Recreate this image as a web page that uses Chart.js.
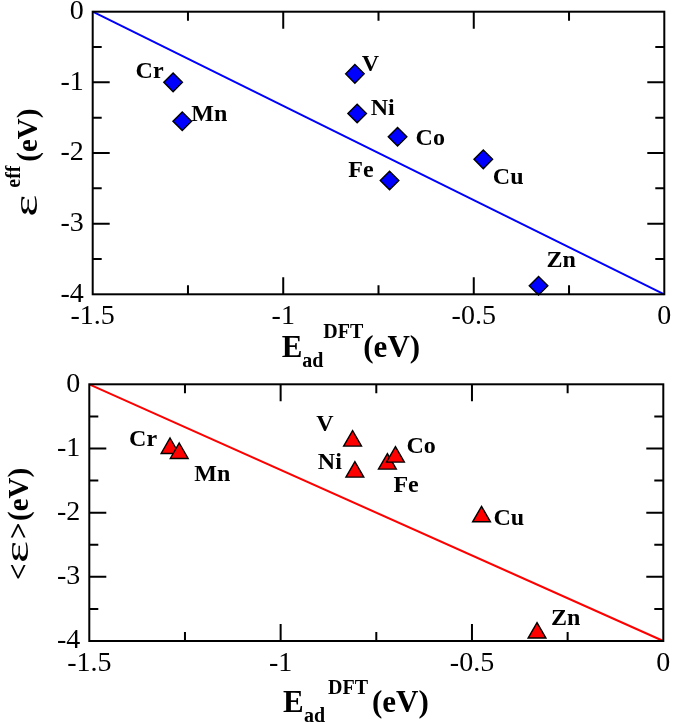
<!DOCTYPE html>
<html><head><meta charset="utf-8">
<script src="https://cdn.jsdelivr.net/npm/chart.js@4/dist/chart.umd.min.js"></script>
<style>
html,body{margin:0;padding:0;background:#fff;}
#wrap{position:relative;width:675px;height:724px;overflow:hidden;background:#fff;}
canvas{position:absolute;left:0;}
</style></head><body>
<div id="wrap">
<canvas id="c1" width="675" height="370" style="top:0px"></canvas>
<canvas id="c2" width="675" height="354" style="top:370px"></canvas>
</div>
<script>
// ---- data ----
const elements = ['V', 'Cr', 'Mn', 'Fe', 'Co', 'Ni', 'Cu', 'Zn'];
const eadDFT   = [-0.812, -1.289, -1.265, -0.721, -0.700, -0.806, -0.475, -0.330];
const epsEff   = [-0.88, -1.00, -1.55, -2.39, -1.77, -1.44, -2.09, -3.88];
const epsMean  = [-0.883, -0.997, -1.075, -1.241, -1.132, -1.366, -2.062, -3.874];
const fitX     = [-1.5, 0];
const fitTopY  = [0, -4];
const fitBotY  = [0, -4];
const xTicks = { min: -1.5, max: 0, major: 0.5, minor: 0.25 };
const yTicks = { min: -4, max: 0, major: 1, minor: 0.5 };

// ---- styles ----
const SERIF = '"Liberation Serif", Tinos, "Times New Roman", Times, serif';
const labelStyleTop = [
  {dx: 7, dy: -3, align: 'left'},     // V
  {dx: -9.5, dy: -4, align: 'right'}, // Cr
  {dx: 9, dy: 0, align: 'left'},      // Mn
  {dx: -16, dy: -4, align: 'right'},  // Fe
  {dx: 18, dy: 8, align: 'left'},     // Co
  {dx: 13.5, dy: 2, align: 'left'},   // Ni
  {dx: 9.5, dy: 25, align: 'left'},   // Cu
  {dx: 8, dy: -19, align: 'left'}     // Zn
];
const labelStyleBot = [
  {dx: -19, dy: -10, align: 'right'}, // V
  {dx: -13, dy: -2, align: 'right'},  // Cr
  {dx: 15, dy: 28, align: 'left'},    // Mn
  {dx: 6, dy: 28, align: 'left'},     // Fe
  {dx: 11, dy: -4, align: 'left'},    // Co
  {dx: -13, dy: -3, align: 'right'},  // Ni
  {dx: 12, dy: 8, align: 'left'},     // Cu
  {dx: 14, dy: -8, align: 'left'}     // Zn
];

function drawRich(ctx, x, y, parts, rotate) {
  ctx.save();
  ctx.translate(x, y);
  if (rotate) ctx.rotate(-Math.PI / 2);
  ctx.fillStyle = '#000';
  ctx.textBaseline = 'alphabetic';
  ctx.textAlign = 'left';
  for (const p of parts) {
    ctx.font = p.font;
    if (p.sx) {
      ctx.save();
      ctx.translate(p.at, p.dy || 0);
      ctx.scale(p.sx, p.sy || 1);
      ctx.fillText(p.text, 0, 0);
      ctx.restore();
    } else {
      ctx.fillText(p.text, p.at, p.dy || 0);
    }
  }
  ctx.restore();
}

function framePlugin(labelStyle, titles) {
  return {
    id: 'frame',
    afterDraw(chart) {
      const ctx = chart.ctx;
      const a = chart.chartArea;
      const xs = chart.scales.x, ys = chart.scales.y;
      ctx.save();
      ctx.strokeStyle = '#000';
      ctx.lineWidth = 2;
      ctx.strokeRect(a.left, a.top, a.right - a.left, a.bottom - a.top);
      ctx.beginPath();
      const nx = Math.round((xTicks.max - xTicks.min) / xTicks.minor);
      for (let i = 1; i < nx; i++) {
        const v = xTicks.min + i * xTicks.minor;
        const isMajor = Math.abs(v / xTicks.major - Math.round(v / xTicks.major)) < 1e-6;
        const L = isMajor ? 17 : 9;
        const px = xs.getPixelForValue(v);
        ctx.moveTo(px, a.bottom); ctx.lineTo(px, a.bottom - L);
        ctx.moveTo(px, a.top); ctx.lineTo(px, a.top + L);
      }
      const ny = Math.round((yTicks.max - yTicks.min) / yTicks.minor);
      for (let i = 1; i < ny; i++) {
        const v = yTicks.min + i * yTicks.minor;
        const isMajor = Math.abs(v / yTicks.major - Math.round(v / yTicks.major)) < 1e-6;
        const L = isMajor ? 17 : 9;
        const py = ys.getPixelForValue(v);
        ctx.moveTo(a.left, py); ctx.lineTo(a.left + L, py);
        ctx.moveTo(a.right, py); ctx.lineTo(a.right - L, py);
      }
      ctx.stroke();
      // point labels
      const meta = chart.getDatasetMeta(0);
      ctx.fillStyle = '#000';
      ctx.font = 'bold 24px ' + SERIF;
      ctx.textBaseline = 'alphabetic';
      meta.data.forEach((el, i) => {
        const s = labelStyle[i];
        ctx.textAlign = s.align;
        ctx.fillText(elements[i], el.x + s.dx, el.y + s.dy);
      });
      ctx.restore();
      titles(ctx);
    }
  };
}

const fmt = v => String(Math.round(v * 100) / 100);

function makeChart(id, yVals, fitY, color, pStyle, pRadius, geom, labelStyle, titles) {
  const pts = eadDFT.map((x, i) => ({x: x, y: yVals[i]}));
  const line = fitX.map((x, i) => ({x: x, y: fitY[i]}));
  const zeroPad = s => { s.paddingLeft = 0; s.paddingRight = 0; s.paddingTop = 0; s.paddingBottom = 0; };
  return new Chart(document.getElementById(id), {
    type: 'scatter',
    data: {
      datasets: [
        { data: pts, pointStyle: pStyle, pointRadius: pRadius, pointHoverRadius: pRadius,
          backgroundColor: color, borderColor: '#000', borderWidth: 1.4, clip: false },
        { data: line, showLine: true, borderColor: color, borderWidth: 2, pointRadius: 0,
          fill: false, clip: false }
      ]
    },
    options: {
      responsive: false,
      animation: false,
      events: [],
      layout: { padding: { left: 0, right: geom.right, top: geom.top, bottom: 0 } },
      plugins: { legend: { display: false }, tooltip: { enabled: false } },
      scales: {
        x: {
          type: 'linear', min: xTicks.min, max: xTicks.max,
          grid: { display: false, drawTicks: false },
          border: { display: false },
          ticks: { stepSize: xTicks.major, color: '#000', padding: geom.xPad, maxRotation: 0,
                   autoSkip: false, callback: fmt, font: { family: SERIF, size: 28 } },
          afterFit: s => { s.height = geom.xH; zeroPad(s); }
        },
        y: {
          type: 'linear', min: yTicks.min, max: yTicks.max,
          grid: { display: false, drawTicks: false },
          border: { display: false },
          ticks: { stepSize: yTicks.major, color: '#000', padding: 9, autoSkip: false,
                   callback: fmt, font: { family: SERIF, size: 28 } },
          afterFit: s => { s.width = geom.yW; zeroPad(s); }
        }
      }
    },
    plugins: [framePlugin(labelStyle, titles)]
  });
}

function build() {
  const B31 = 'bold 31px ' + SERIF, B20 = 'bold 20px ' + SERIF, B29 = 'bold 29px ' + SERIF;
  const EPS = '34px ' + SERIF;
  makeChart('c1', epsEff, fitTopY, '#0000ff', 'rectRot', 9.3,
    { right: 9, top: 11.7, xH: 370 - 294.3, yW: 92.7, xPad: 5.5 },
    labelStyleTop,
    ctx => {
      drawRich(ctx, 281.7, 356.5, [
        {text: 'E', font: B31, at: 0},
        {text: 'ad', font: B20, at: 20.5, dy: 10},
        {text: 'DFT', font: B20, at: 41.6, dy: -18.5},
        {text: '(eV)', font: B31, at: 81.6}
      ], false);
      drawRich(ctx, 36.5, 216.7, [
        {text: 'ε', font: EPS, at: 0, sx: 1.55},
        {text: 'eff', font: B20, at: 29, dy: -16.5},
        {text: '(eV)', font: B29, at: 55}
      ], true);
    });
  makeChart('c2', epsMean, fitBotY, '#ff0000', 'triangle', 10.3,
    { right: 8.3, top: 14.3, xH: 354 - 271, yW: 89.3, xPad: 6 },
    labelStyleBot,
    ctx => {
      drawRich(ctx, 283, 342, [
        {text: 'E', font: B31, at: 0},
        {text: 'ad', font: B20, at: 21, dy: 10},
        {text: 'DFT', font: B20, at: 45, dy: -18.5},
        {text: '(eV)', font: B31, at: 89}
      ], false);
      drawRich(ctx, 28, 210, [
        {text: '<', font: B29, at: 0},
        {text: 'ε', font: EPS, at: 17, sx: 1.55},
        {text: '>', font: B29, at: 41},
        {text: '(eV)', font: B29, at: 59}
      ], true);
    });
}

build();
</script>
</body></html>
